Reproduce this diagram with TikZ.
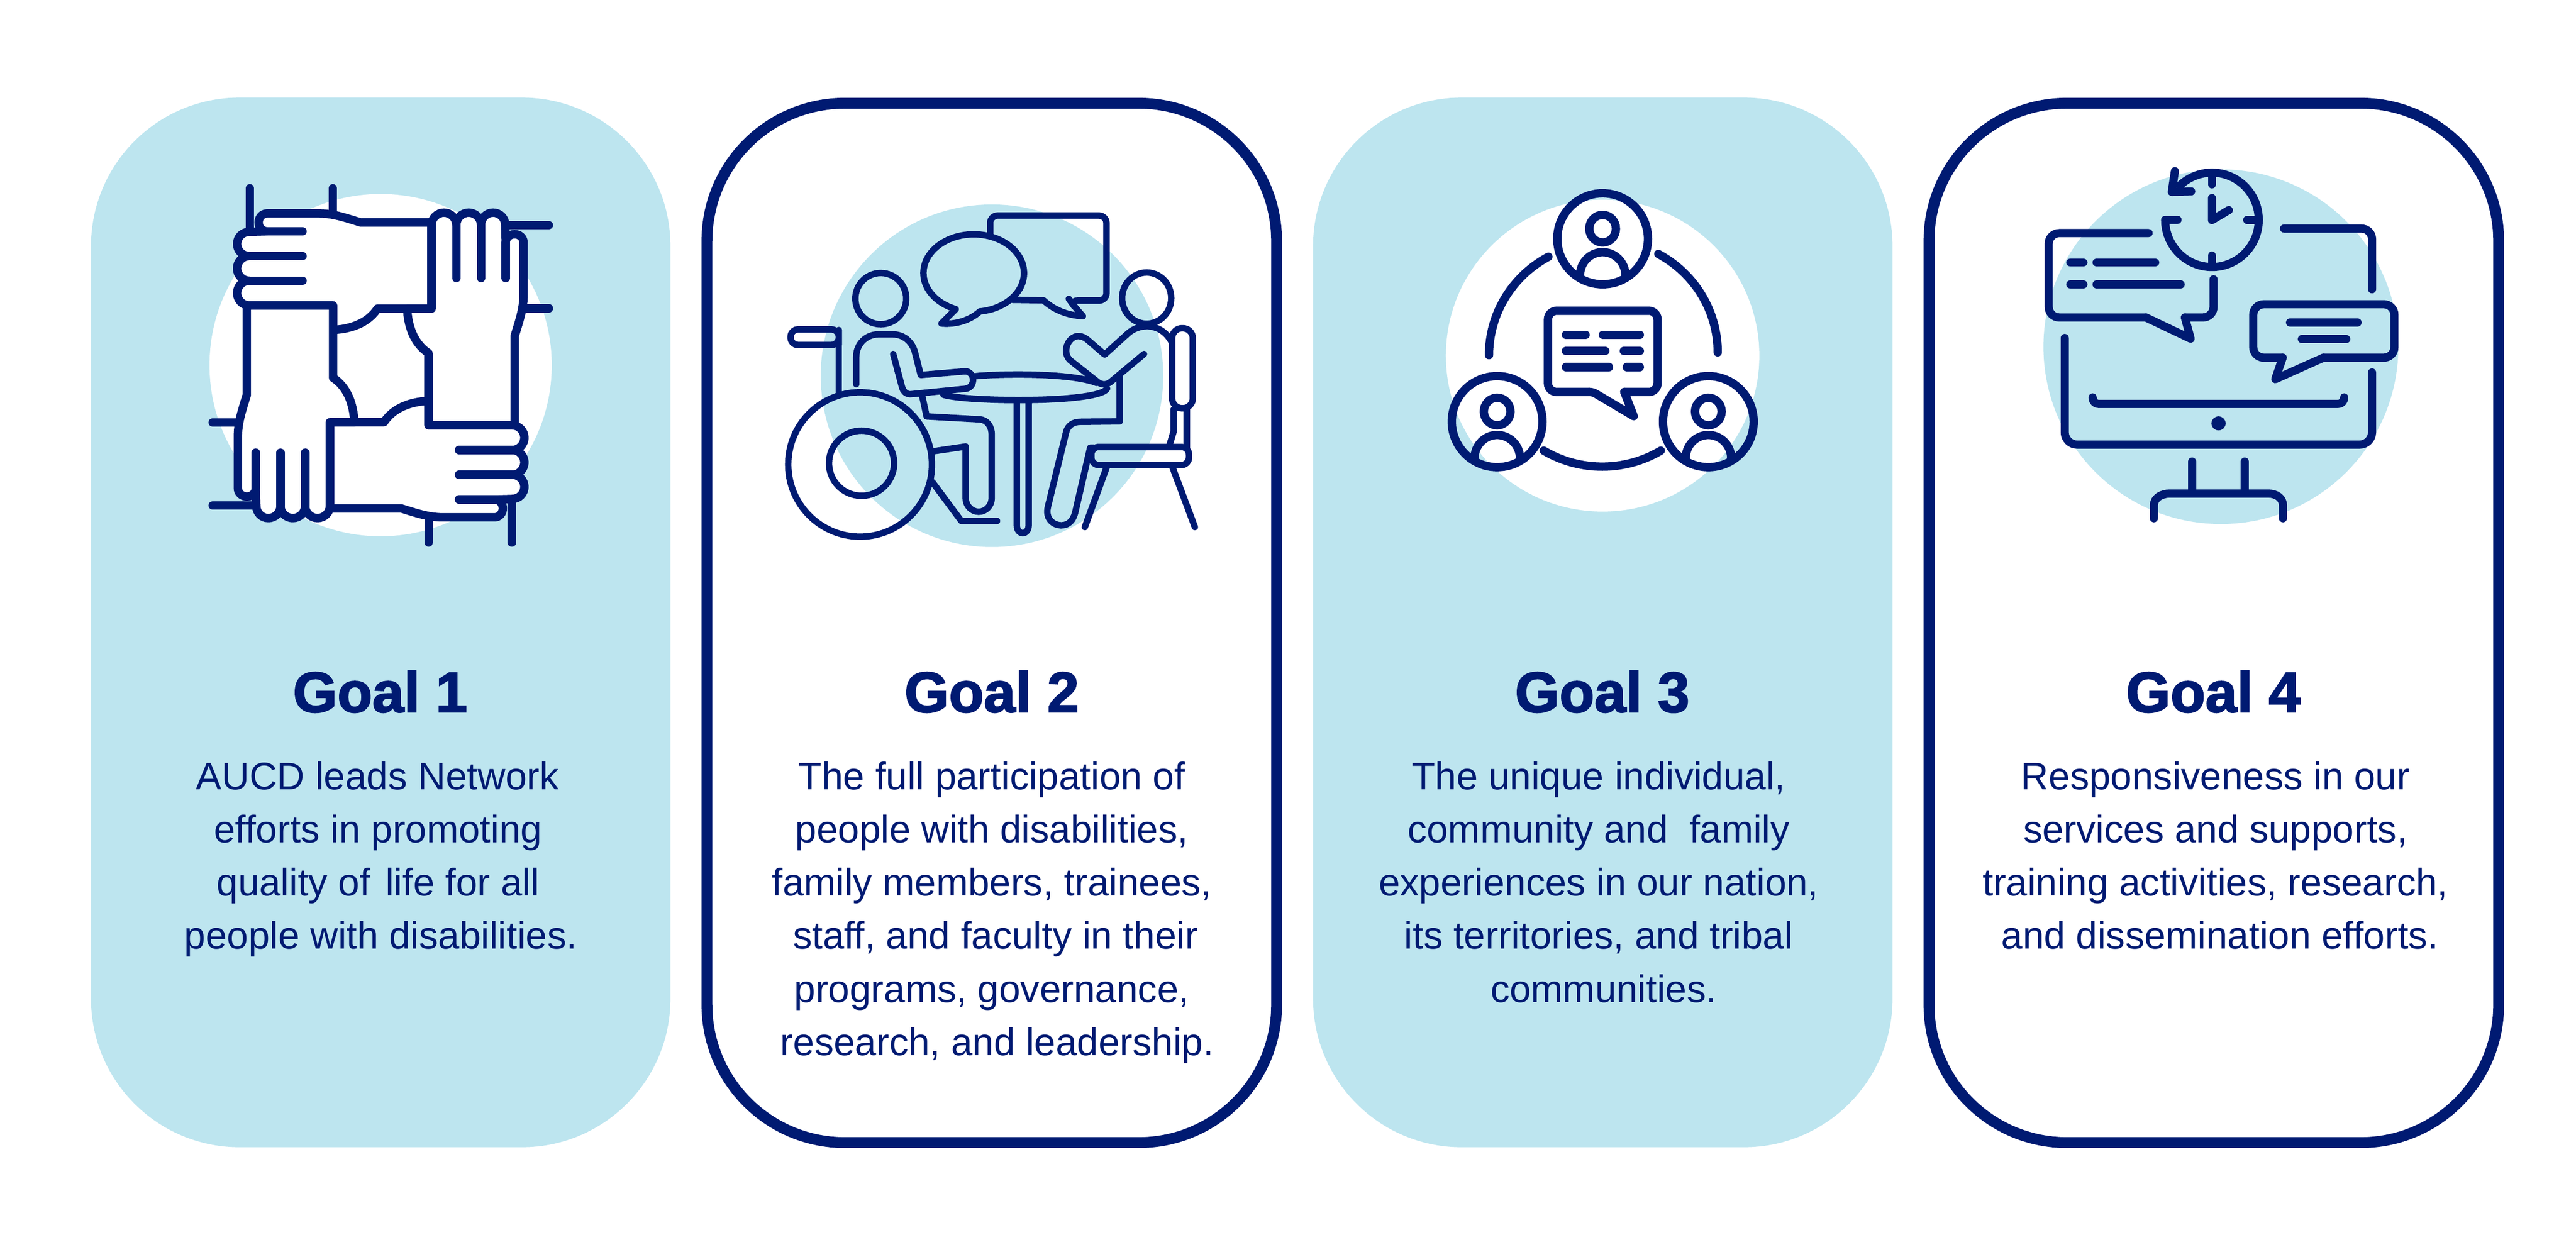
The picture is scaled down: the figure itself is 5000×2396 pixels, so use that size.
\documentclass[tikz,border=0pt]{standalone}
\usepackage{fontspec}
\usepackage{tikz}
\setmainfont{Liberation Sans}
\newfontfamily\goalfont[FakeBold=2.2]{Liberation Sans Bold}
\definecolor{cardblue}{RGB}{189,229,239}
\definecolor{navy}{RGB}{0,26,114}
\tikzset{
    cardfill/.style = {fill=cardblue, rounded corners=82pt, minimum width=11.24cm, minimum height=20.36cm, inner sep=0pt},
    cardline/.style = {draw=navy, line width=6pt, fill=white, rounded corners=76pt, minimum width=11.05cm, minimum height=20.16cm, inner sep=0pt},
    goalhead/.style = {navy, anchor=base, inner sep=0pt, font=\goalfont\fontsize{31.5pt}{34pt}\selectfont},
    goaltext/.style = {navy, anchor=north, inner sep=0pt, align=center, font=\fontsize{21.2pt}{29.3pt}\selectfont},
    iconline/.style = {navy, line cap=round, line join=round}
}
% #1 is where the wrist ends
\newcommand{\drawhand}[1]{
    \draw[iconline] (264,128) -- (264,290);
    \draw[iconline] (580,128) -- (580,225);
    \draw[iconline, fill=white] (#1,258) -- (685,258) .. controls (620,238) and (580,224) .. (525,224) -- (330,224)
        .. controls (311,224) and (298,240) .. (298,258) .. controls (298,277) and (311,292) .. (330,292) -- (262,294)
        .. controls (236,294) and (216,315) .. (216,340) .. controls (216,365) and (236,386) .. (262,386)
        .. controls (236,386) and (216,408) .. (216,433) .. controls (216,458) and (236,480) .. (262,480)
        .. controls (236,480) and (216,502) .. (216,527) .. controls (216,552) and (236,574) .. (262,574)
        -- (581,574) -- (581,667) .. controls (650,664) and (715,640) .. (750,586) -- (#1,586) -- cycle;
    \draw[iconline] (330,292) -- (465,292);
    \draw[iconline] (262,386) -- (465,386);
    \draw[iconline] (262,480) -- (465,480);
}
\begin{document}
\begin{tikzpicture}[x=0.01cm, y=-0.01cm]
    \useasboundingbox (0,0) rectangle (5000,2396);
    % cards
    \node[cardfill] (card1) at (739,1208) {};
    \node[cardline] (card2) at (1925,1209) {};
    \node[cardfill] (card3) at (3111,1208) {};
    \node[cardline] (card4) at (4297,1209) {};
    % hands
    \begin{scope}[shift={(350,300)}, scale=0.5102, iconline/.append style={line width=4.64pt}]
        \fill[white] (762,801) circle [radius=651];
        \drawhand{955}
        \begin{scope}[rotate around={-90:(762.5,767.5)}]
            \drawhand{1025}
        \end{scope}
        \begin{scope}[rotate around={180:(762.5,802)}]
            \drawhand{955}
        \end{scope}
        \begin{scope}[rotate around={180:(762.5,802)}, rotate around={-90:(762.5,767.5)}]
            \drawhand{1025}
        \end{scope}
    \end{scope}
    % table talk
    \begin{scope}[shift={(1480,350)}, xscale=0.574, yscale=0.4783, iconline/.append style={line width=3.55pt}]
        \fill[cardblue] (776,793) ellipse [x radius=579, y radius=695];
        \draw[iconline, rounded corners=4pt] (770,225) -- (770,143) -- (1163,143) -- (1163,488) -- (1040,488) -- (1050,505) -- (1083,551);
        \draw[iconline] (1083,551) .. controls (1030,548) and (985,525) .. (950,487) -- (845,485);
        \draw[iconline] (735,532) arc [start angle=83, end angle=-249, x radius=170, y radius=157] -- (605,581)
            .. controls (650,586) and (700,570) .. (735,532);
        \draw[iconline] (400,480) ellipse [x radius=86, y radius=104];
        \draw[iconline] (317,827) -- (317,715) .. controls (317,665) and (350,625) .. (392,625) -- (440,625)
            .. controls (478,625) and (505,655) .. (515,695) -- (535,790) -- (685,775)
            .. controls (700,775) and (712,790) .. (712,810) .. controls (712,830) and (700,845) .. (685,846)
            -- (500,868) .. controls (485,868) and (475,855) .. (472,840) -- (442,705);
        \draw[iconline, rounded corners=4pt] (258,637) -- (258,605) -- (95,605) -- (95,668) -- (258,668) -- cycle;
        \draw[iconline] (258,637) -- (258,862);
        \draw[iconline] (330,1153) ellipse [x radius=243, y radius=293];
        \draw[iconline] (335,1148) ellipse [x radius=110, y radius=132];
        \draw[iconline] (540,875) -- (555,958) -- (735,970) .. controls (760,972) and (775,1000) .. (775,1030) -- (775,1290)
            .. controls (775,1320) and (755,1345) .. (731,1345) .. controls (707,1345) and (687,1320) .. (687,1290) -- (687,1080) -- (575,1100);
        \draw[iconline] (575,1225) -- (672,1382) -- (793,1382);
        \draw[iconline] (718,795) .. controls (800,785) and (1040,780) .. (1130,822);
        \draw[iconline] (612,870) .. controls (690,900) and (1140,905) .. (1165,845);
        \draw[iconline] (860,900) -- (860,1400) .. controls (860,1420) and (870,1432) .. (880,1432)
            .. controls (890,1432) and (900,1420) .. (900,1400) -- (900,900);
        \draw[iconline] (1299,478) ellipse [x radius=83, y radius=104];
        \draw[iconline] (1290,705) -- (1180,815) .. controls (1165,832) and (1145,832) .. (1130,815) -- (1040,730)
            .. controls (1010,695) and (1035,632) .. (1068,632) .. controls (1080,632) and (1090,638) .. (1100,648)
            -- (1157,707) -- (1235,622) .. controls (1255,600) and (1280,592) .. (1299,592) .. controls (1335,592) and (1365,615) .. (1383,655);
        \draw[iconline] (1208,800) -- (1208,978) -- (1075,980) .. controls (1050,980) and (1033,995) .. (1027,1020) -- (965,1325)
            .. controls (955,1375) and (985,1400) .. (1010,1400) .. controls (1035,1400) and (1050,1380) .. (1057,1350) -- (1108,1085) -- (1120,1085);
        \draw[iconline, rounded corners=5.5pt] (1385,600) rectangle (1455,925);
        \draw[iconline] (1390,930) -- (1390,1020) -- (1375,1080);
        \draw[iconline] (1435,930) -- (1435,1085);
        \draw[iconline, rounded corners=4pt] (1112,1082) rectangle (1442,1155);
        \draw[iconline] (1165,1160) -- (1090,1407);
        \draw[iconline] (1385,1160) -- (1462,1407);
    \end{scope}
    % people round a message
    \begin{scope}[shift={(2750,330)}, xscale=0.4783, yscale=0.4464, iconline/.append style={line width=4.6pt}]
        \fill[white] (754,807) ellipse [x radius=636, y radius=678];
        \draw[iconline] (754,299) ellipse [x radius=184, y radius=198];
        \draw[iconline] (754,255) ellipse [x radius=54, y radius=60];
        \draw[iconline] (662,460) .. controls (662,400) and (705,357) .. (754,357) .. controls (803,357) and (847,400) .. (847,460);
        \draw[iconline] (326,1094) ellipse [x radius=184, y radius=198];
        \draw[iconline] (326,1050) ellipse [x radius=54, y radius=60];
        \draw[iconline] (234,1255) .. controls (234,1195) and (277,1152) .. (326,1152) .. controls (375,1152) and (419,1195) .. (419,1255);
        \draw[iconline] (1183,1094) ellipse [x radius=184, y radius=198];
        \draw[iconline] (1183,1050) ellipse [x radius=54, y radius=60];
        \draw[iconline] (1091,1255) .. controls (1091,1195) and (1134,1152) .. (1183,1152) .. controls (1232,1152) and (1276,1195) .. (1276,1255);
        \draw[iconline] (293,805) arc [start angle=180, end angle=241.5, x radius=461, y radius=487];
        \draw[iconline] (980,365) arc [start angle=298.5, end angle=360, x radius=461, y radius=487];
        \draw[iconline] (990,1220) arc [start angle=59, end angle=121, x radius=461, y radius=487];
        \draw[iconline, rounded corners=4.8pt] (700,965) -- (532,965) -- (532,612) -- (977,612) -- (977,965) -- (842,965);
        \draw[iconline] (700,965) .. controls (710,965) and (720,968) .. (730,975) -- (880,1070) -- (842,965);
        \draw[iconline] (605,716) -- (685,716);
        \draw[iconline] (755,716) -- (905,716);
        \draw[iconline] (605,787) -- (765,787);
        \draw[iconline] (840,787) -- (905,787);
        \draw[iconline] (605,857) -- (780,857);
        \draw[iconline] (852,857) -- (905,857);
    \end{scope}
    % screen and clock
    \begin{scope}[shift={(3900,290)}, xscale=0.5102, yscale=0.4847, iconline/.append style={line width=4.5pt}]
        \fill[cardblue] (805,790) ellipse [x radius=675, y radius=710];
        \draw[iconline] (640,282) -- (593,282) arc [start angle=180, end angle=-133, x radius=178, y radius=189];
        \draw[iconline] (630,87) -- (618,170) -- (692,168);
        \draw[iconline] (771,110) -- (771,140);
        \draw[iconline] (771,425) -- (771,465);
        \draw[iconline] (905,282) -- (950,282);
        \draw[iconline] (771,195) -- (771,283) -- (835,243);
        \draw[iconline, rounded corners=5.8pt] (530,335) -- (150,335) -- (150,673) -- (520,673);
        \draw[iconline] (520,673) -- (690,758) -- (668,673);
        \draw[iconline, rounded corners=5.8pt] (668,673) -- (777,673) -- (777,520);
        \draw[iconline] (232,453) -- (282,453);
        \draw[iconline] (332,453) -- (555,453);
        \draw[iconline] (232,541) -- (282,541);
        \draw[iconline] (332,541) -- (652,541);
        \draw[iconline, rounded corners=5.8pt] (1045,317) -- (1380,317) -- (1380,560);
        \draw[iconline, rounded corners=6.8pt] (1380,893) -- (1380,1182) -- (211,1182) -- (211,755);
        \draw[iconline] (317,993) .. controls (317,1008) and (325,1019) .. (340,1019) -- (1250,1019) .. controls (1265,1019) and (1274,1008) .. (1274,993);
        \fill[navy] (796,1097) ellipse [x radius=27, y radius=28];
        \draw[iconline] (695,1250) -- (695,1378);
        \draw[iconline] (896,1250) -- (896,1378);
        \draw[iconline] (550,1477) -- (550,1425) .. controls (550,1395) and (580,1378) .. (610,1378) -- (985,1378) .. controls (1015,1378) and (1041,1395) .. (1041,1425) -- (1041,1477);
        \draw[iconline, rounded corners=5.8pt] (1195,834) -- (1465,834) -- (1465,620) -- (928,620) -- (928,834) -- (1040,834);
        \draw[iconline] (1040,834) -- (1012,920) -- (1195,834);
        \draw[iconline] (1068,693) -- (1325,693);
        \draw[iconline] (1113,760) -- (1282,760);
    \end{scope}
    % headings
    \node[goalhead] (goal1) at (738,1382) {Goal 1};
    \node[goalhead] (goal2) at (1925,1382) {Goal 2};
    \node[goalhead] (goal3) at (3110,1382) {Goal 3};
    \node[goalhead] (goal4) at (4296,1382) {Goal 4};
    % texts
    \node[goaltext] (text1) at (739,1460) {\strut AUCD leads Network\kern3.6pt\\efforts in promoting\kern3pt\\quality of\kern2.5pt\ life for all\kern3pt\\people with disabilities.};
    \node[goaltext] (text2) at (1925,1460) {\strut The full participation of\\people with disabilities,\\family members, trainees,\\\kern4pt staff, and faculty in their\\programs, governance,\\\kern6pt research, and leadership.};
    \node[goaltext] (text3) at (3103,1460) {\strut The unique individual,\\community and\ \ family\\experiences in our nation,\\its territories, and tribal\\\kern5.5pt communities.};
    \node[goaltext] (text4) at (4300,1460) {\strut Responsiveness in our\\services and supports,\\training activities, research,\\\kern5pt and dissemination efforts.};
\end{tikzpicture}
\end{document}
